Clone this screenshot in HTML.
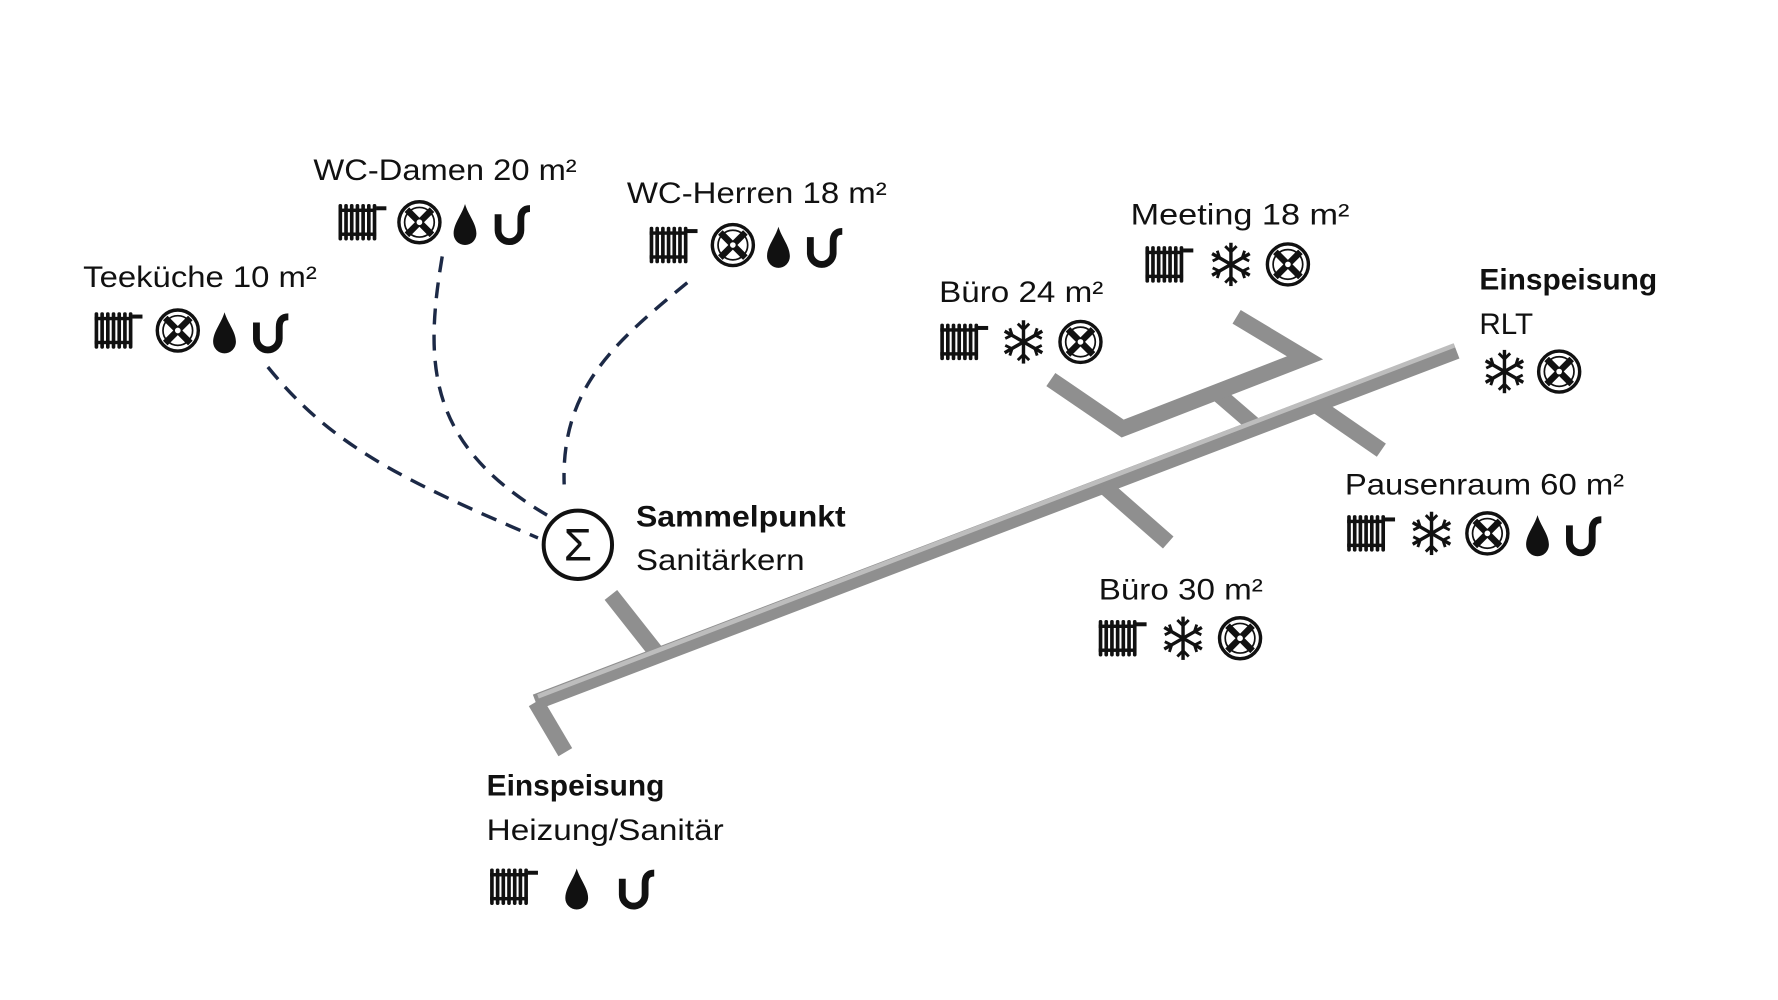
<!DOCTYPE html>
<html><head><meta charset="utf-8"><style>
html,body{margin:0;padding:0;background:#fff;}
svg{display:block;}
text{font-family:"Liberation Sans",sans-serif;font-size:26px;fill:#111;}
.b{font-weight:bold;}
</style></head><body>
<svg width="1778" height="1000" viewBox="0 0 1560 877.4" preserveAspectRatio="none" xmlns="http://www.w3.org/2000/svg">
<defs>
<g id="rad">
 <g fill="#111">
  <rect x="-21" y="-16" width="3.2" height="32" rx="1.5"/>
  <rect x="-16" y="-16" width="3.2" height="32" rx="1.5"/>
  <rect x="-11" y="-16" width="3.2" height="32" rx="1.5"/>
  <rect x="-6" y="-16" width="3.2" height="32" rx="1.5"/>
  <rect x="-1" y="-16" width="3.2" height="32" rx="1.5"/>
  <rect x="4" y="-16" width="3.2" height="32" rx="1.5"/>
  <rect x="9" y="-16" width="3.2" height="32" rx="1.5"/>
  <rect x="-21" y="-12" width="33" height="3"/>
  <rect x="-21" y="9" width="33" height="3"/>
  <rect x="12" y="-14" width="9" height="3.5"/>
 </g>
</g>
<g id="fan">
 <circle r="18" fill="none" stroke="#111" stroke-width="3"/>
 <circle r="13" fill="none" stroke="#111" stroke-width="1.5"/>
 <path d="M-13,-9 L-9,-13 L0,-4 L9,-13 L13,-9 L4,0 L13,9 L9,13 L0,4 L-9,13 L-13,9 L-4,0 Z" fill="#111"/>
 <circle r="2.5" fill="#fff"/>
</g>
<path id="drop" d="M0,-19 C3,-9 10,-2 10,7 A10,10 0 0 1 -10,7 C-10,-2 -3,-9 0,-19Z" fill="#111"/>
<path id="trap" d="M-12,-10 V4 A10,10 0 0 0 8,4 V-6 Q8,-15 16,-15" fill="none" stroke="#111" stroke-width="6"/>
<g id="snow" stroke="#111" stroke-width="3" fill="none">
 <line x1="0" y1="-19" x2="0" y2="19"/>
 <line x1="-16.5" y1="-9.5" x2="16.5" y2="9.5"/>
 <line x1="-16.5" y1="9.5" x2="16.5" y2="-9.5"/>
 <path d="M-5,-16 L0,-11 L5,-16 M-5,16 L0,11 L5,16 M-16,-3 L-10,-6 L-12,-12 M16,3 L10,6 L12,12 M-16,3 L-10,6 L-12,12 M16,-3 L10,-6 L12,-12" stroke-width="2.5"/>
</g>
</defs>

<g fill="none" stroke="#1c2946" stroke-width="3" stroke-dasharray="14 9">
 <path d="M235,322 C290,390 350,420 472,472"/>
 <path d="M388,225 C372,320 375,390 480,452"/>
 <path d="M603,248 C540,300 492,340 495,425"/>
</g>

<g fill="none" stroke-linecap="butt" stroke-linejoin="miter">
 <g stroke="#8f8f8f" stroke-width="14">
  <path d="M470,616 L1278,308"/>
  <path d="M470,616 L496,660"/>
  <path d="M577,574 L536,522"/>
  <path d="M968,426 L1025,476"/>
  <path d="M1154,355 L1212,395"/>
  <path d="M1068,345 L1104,376"/>
  <path d="M922,333 L985,376 L1145,314 L1085,278"/>
 </g>
 <g stroke="#bdbdbd" stroke-width="4">
  <path d="M472,611 L1276,303"/>
 </g>
</g>

<circle cx="507" cy="478" r="30" fill="#fff" stroke="#111" stroke-width="3.5"/>
<text x="507" y="492" text-anchor="middle" style="font-size:40px">Σ</text>
<g lengthAdjust="spacingAndGlyphs">
<text class="b" x="558" y="462" textLength="184" lengthAdjust="spacingAndGlyphs">Sammelpunkt</text>
<text x="558" y="500" textLength="148" lengthAdjust="spacingAndGlyphs">Sanitärkern</text>
<text x="73" y="252" textLength="205" lengthAdjust="spacingAndGlyphs">Teeküche 10 m²</text>
<text x="275" y="158" textLength="231" lengthAdjust="spacingAndGlyphs">WC-Damen 20 m²</text>
<text x="550" y="178" textLength="228" lengthAdjust="spacingAndGlyphs">WC-Herren 18 m²</text>
<text x="992" y="197" textLength="192" lengthAdjust="spacingAndGlyphs">Meeting 18 m²</text>
<text x="824" y="265" textLength="144" lengthAdjust="spacingAndGlyphs">Büro 24 m²</text>
<text class="b" x="1298" y="254" textLength="156" lengthAdjust="spacingAndGlyphs">Einspeisung</text>
<text x="1298" y="293">RLT</text>
<text x="1180" y="434" textLength="245" lengthAdjust="spacingAndGlyphs">Pausenraum 60 m²</text>
<text x="964" y="526" textLength="144" lengthAdjust="spacingAndGlyphs">Büro 30 m²</text>
<text class="b" x="427" y="698" textLength="156" lengthAdjust="spacingAndGlyphs">Einspeisung</text>
<text x="427" y="737" textLength="208" lengthAdjust="spacingAndGlyphs">Heizung/Sanitär</text>
</g>

<use href="#rad" x="104" y="290"/><use href="#fan" x="156" y="290"/><use href="#drop" x="197" y="293"/><use href="#trap" x="237" y="293"/>
<use href="#rad" x="318" y="195"/><use href="#fan" x="368" y="195"/><use href="#drop" x="408" y="198"/><use href="#trap" x="449" y="198"/>
<use href="#rad" x="591" y="215"/><use href="#fan" x="643" y="215"/><use href="#drop" x="683" y="218"/><use href="#trap" x="723" y="218"/>
<use href="#rad" x="1026" y="232"/><use href="#snow" x="1080" y="232"/><use href="#fan" x="1130" y="232"/>
<use href="#rad" x="846" y="300"/><use href="#snow" x="898" y="300"/><use href="#fan" x="948" y="300"/>
<use href="#snow" x="1320" y="326"/><use href="#fan" x="1368" y="326"/>
<use href="#rad" x="1203" y="468"/><use href="#snow" x="1256" y="468"/><use href="#fan" x="1305" y="468"/><use href="#drop" x="1349" y="471"/><use href="#trap" x="1389" y="471"/>
<use href="#rad" x="985" y="560"/><use href="#snow" x="1038" y="560"/><use href="#fan" x="1088" y="560"/>
<use href="#rad" x="451" y="778"/><use href="#drop" x="506" y="781"/><use href="#trap" x="558" y="781"/>
</svg>
</body></html>
